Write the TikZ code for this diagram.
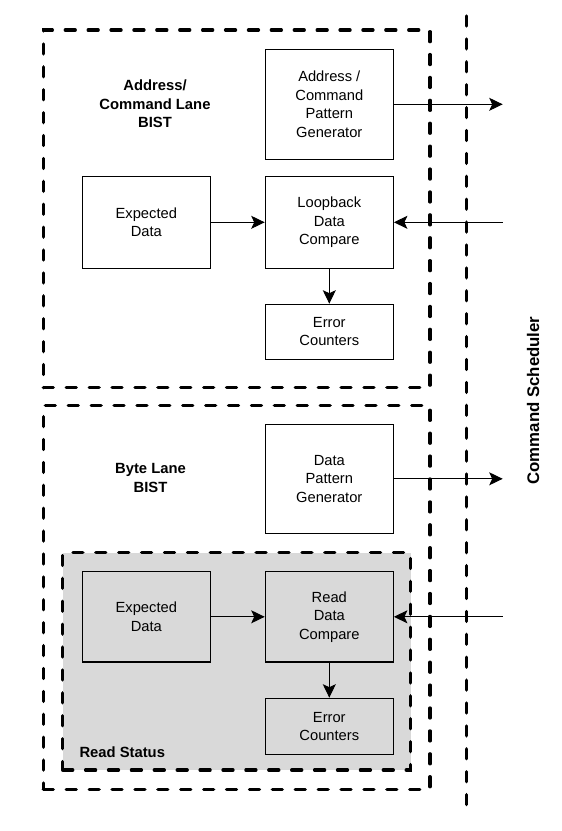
\documentclass[tikz,border=0pt]{standalone}
\usepackage{fontspec}
\setmainfont{Liberation Sans}
\usepackage{tikz}
\usetikzlibrary{arrows.meta}
\tikzset{>={Stealth[length=13.5pt,width=13pt,inset=3pt]}}

\begin{document}
\begin{tikzpicture}[x=1pt,y=-1pt]
      \tikzstyle{bnode} = [draw=black, rectangle, line width=1.2pt, minimum width=128pt, inner sep=0pt, align=center, font=\fontsize{14.7}{18.4}\selectfont]
      \tikzstyle{lane} = [draw=black, rectangle, line width=3.3pt, dash pattern=on 10pt off 12.9pt, line cap=round]
      \tikzstyle{tnode} = [align=center, inner sep=0pt, font=\bfseries\fontsize{14.8}{18.4}\selectfont]

      \useasboundingbox (0,0) rectangle (562,831);

      % lanes
      \node[lane, minimum width=386.7pt, minimum height=357.7pt] (cmdlane) at (236.7,208.9) {};
      \node[lane, minimum width=386.7pt, minimum height=383.6pt] (bytelane) at (236.7,597.5) {};
      \node[lane, fill=black!15, minimum width=348pt, minimum height=217.3pt] (rdstatus) at (236.7,661.4) {};
      \coordinate (schedtop) at (466.7,16);
      \coordinate (schedbot) at (466.7,808);
      \draw[lane] (schedtop) -- (schedbot);

      \node[tnode] (cmdtitle) at (155,104) {Address/\\Command Lane\\BIST};
      \node[tnode] (bytetitle) at (150.5,478) {Byte Lane\\BIST};
      \node[tnode, anchor=base west] (rdtitle) at (79.3,757.7) {Read Status};
      \node[tnode, rotate=90, font=\bfseries\fontsize{16.8}{20}\selectfont] (sched) at (533,400.5) {Command Scheduler};

      % address / command lane
      \node[bnode, minimum height=110pt] (cmdgen) at (329.3,104.3) {Address /\\Command\\Pattern\\Generator};
      \node[bnode, minimum height=92pt] (cmdexp) at (146.3,222.3) {Expected\\Data};
      \node[bnode, minimum height=92pt] (loopcmp) at (329.3,222.3) {Loopback\\Data\\Compare};
      \node[bnode, minimum height=55pt] (cmderr) at (329.3,331.8) {Error\\Counters};
      \coordinate (cmdout) at (502.7,104.3);
      \coordinate (loopin) at (502.7,222.3);

      \draw[black,line width=1pt,->] (cmdgen) to (cmdout);
      \draw[black,line width=1pt,->] (loopin) to (loopcmp);
      \draw[black,line width=1pt,->] (cmdexp) to (loopcmp);
      \draw[black,line width=1pt,->] (loopcmp) to (cmderr);

      % byte lane
      \node[bnode, minimum height=109pt] (datagen) at (329.3,478.8) {Data\\Pattern\\Generator};
      \node[bnode, minimum height=90.3pt] (rdexp) at (146.3,616.8) {Expected\\Data};
      \node[bnode, minimum height=90.3pt] (rdcmp) at (329.3,616.8) {Read\\Data\\Compare};
      \node[bnode, minimum height=56pt] (rderr) at (329.3,726.3) {Error\\Counters};
      \coordinate (dataout) at (502.7,478.8);
      \coordinate (rdin) at (502.7,616.8);

      \draw[black,line width=1pt,->] (datagen) to (dataout);
      \draw[black,line width=1pt,->] (rdin) to (rdcmp);
      \draw[black,line width=1pt,->] (rdexp) to (rdcmp);
      \draw[black,line width=1pt,->] (rdcmp) to (rderr);

    \end{tikzpicture}
\end{document}
